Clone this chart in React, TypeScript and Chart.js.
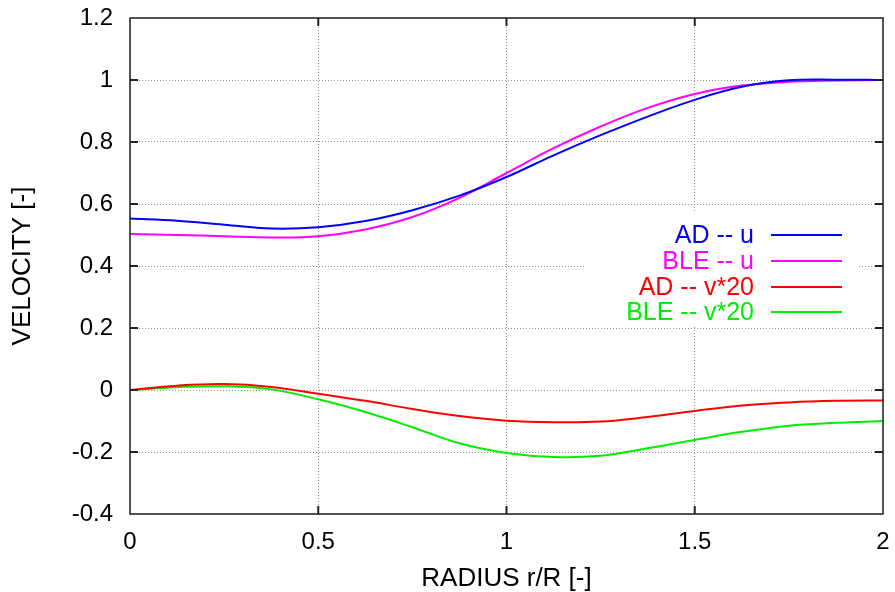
import React, { useEffect, useRef } from "react";
import { Chart, registerables } from "chart.js";

Chart.register(...registerables);

const radius = [0, 0.125, 0.25, 0.375, 0.5, 0.625, 0.75, 0.875, 1, 1.125, 1.25, 1.375, 1.5, 1.625, 1.75, 1.875, 2];
const adU = [0.553, 0.546, 0.533, 0.521, 0.525, 0.545, 0.58, 0.627, 0.687, 0.757, 0.822, 0.882, 0.936, 0.978, 0.999, 1.001, 1.0];
const bleU = [0.503, 0.5, 0.496, 0.492, 0.496, 0.518, 0.558, 0.62, 0.7, 0.78, 0.85, 0.91, 0.955, 0.982, 0.994, 0.998, 1.0];
const adV20 = [0, 0.014, 0.019, 0.01, -0.012, -0.035, -0.061, -0.084, -0.099, -0.104, -0.102, -0.087, -0.068, -0.05, -0.04, -0.035, -0.034];
const bleV20 = [0, 0.009, 0.012, 0.002, -0.03, -0.071, -0.12, -0.172, -0.203, -0.216, -0.212, -0.188, -0.161, -0.135, -0.115, -0.106, -0.1];

const seriesNames = ["AD -- u", "BLE -- u", "AD -- v*20", "BLE -- v*20"];
const seriesColors = ["#0000ff", "#ff00ff", "#ff0000", "#00ee00"];

const xTicks = [0, 0.5, 1, 1.5, 2];
const xTickLabels = ["0", "0.5", "1", "1.5", "2"];
const yTicks = [-0.4, -0.2, 0, 0.2, 0.4, 0.6, 0.8, 1, 1.2];
const yTickLabels = ["-0.4", "-0.2", "0", "0.2", "0.4", "0.6", "0.8", "1", "1.2"];

const xTitle = "RADIUS r/R [-]";
const yTitle = "VELOCITY [-]";

const FONT = "'Liberation Sans', Arial, Helvetica, sans-serif";

const legendBox = { left: 585, top: 213, right: 857, bottom: 326 };

const legendPlugin = {
  id: "gnuLegend",
  beforeDatasetsDraw(chart: any) {
    const ctx = chart.ctx;
    ctx.save();
    ctx.fillStyle = "#ffffff";
    ctx.fillRect(legendBox.left, legendBox.top, legendBox.right - legendBox.left, legendBox.bottom - legendBox.top);
    ctx.restore();
  },
  afterDatasetsDraw(chart: any) {
    const ctx = chart.ctx;
    const { left, right, top, bottom } = chart.chartArea;
    ctx.save();
    ctx.strokeStyle = "#222";
    ctx.lineWidth = 1.5;
    ctx.strokeRect(left, top, right - left, bottom - top);
    ctx.lineWidth = 2;
    const xs = chart.scales.x;
    const ys = chart.scales.y;
    const tl = 8;
    xs.ticks.forEach((t: any) => {
      const px = xs.getPixelForValue(t.value);
      if (px <= left + 1 || px >= right - 1) return;
      ctx.beginPath();
      ctx.moveTo(px, bottom);
      ctx.lineTo(px, bottom - tl);
      ctx.moveTo(px, top);
      ctx.lineTo(px, top + tl);
      ctx.stroke();
    });
    ys.ticks.forEach((t: any) => {
      const py = ys.getPixelForValue(t.value);
      if (py <= top + 1 || py >= bottom - 1) return;
      ctx.beginPath();
      ctx.moveTo(left, py);
      ctx.lineTo(left + tl, py);
      ctx.moveTo(right, py);
      ctx.lineTo(right - tl, py);
      ctx.stroke();
    });
    const rows = [235, 261, 287, 312];
    ctx.font = `25px ${FONT}`;
    ctx.textAlign = "right";
    ctx.textBaseline = "middle";
    seriesNames.forEach((name, i) => {
      ctx.fillStyle = seriesColors[i];
      ctx.fillText(name, 754, rows[i] + 1);
      ctx.strokeStyle = seriesColors[i];
      ctx.lineWidth = 2;
      ctx.beginPath();
      ctx.moveTo(771, rows[i]);
      ctx.lineTo(842, rows[i]);
      ctx.stroke();
    });
    ctx.restore();
  },
};

export default function App() {
  const ref = useRef<HTMLCanvasElement>(null);
  useEffect(() => {
    if (!ref.current) return;
    const series = [adU, bleU, adV20, bleV20];
    const chart = new Chart(ref.current, {
      type: "line",
      data: {
        datasets: series.map((vals, i) => ({
          label: seriesNames[i],
          data: radius.map((r, j) => ({ x: r, y: vals[j] })),
          borderColor: seriesColors[i],
          backgroundColor: seriesColors[i],
          borderWidth: 2,
          pointRadius: 0,
          tension: 0.4,
          fill: false,
        })),
      },
      options: {
        responsive: false,
        animation: false,
        layout: { padding: { top: 18, right: 12, left: 0, bottom: 0 } },
        plugins: { legend: { display: false }, tooltip: { enabled: false } },
        scales: {
          x: {
            type: "linear",
            min: 0,
            max: 2,
            afterBuildTicks: (scale: any) => {
              scale.ticks = xTicks.map((v) => ({ value: v }));
            },
            afterFit: (scale: any) => {
              scale.height = 78;
              scale.paddingLeft = 0;
              scale.paddingRight = 0;
            },
            ticks: {
              padding: 14,
              color: "#000",
              font: { family: FONT, size: 24 },
              maxRotation: 0,
              callback: (v: any) => {
                const i = xTicks.indexOf(Number(v));
                return i >= 0 ? xTickLabels[i] : "";
              },
            },
            grid: { color: "#8f8f8f", lineWidth: 1, drawTicks: false },
            border: { display: false, dash: [1, 2] },
            title: {
              display: true,
              text: xTitle,
              color: "#000",
              font: { family: FONT, size: 26, lineHeight: 1.0 },
              padding: { top: 0, bottom: 0 },
            },
          },
          y: {
            type: "linear",
            min: -0.4,
            max: 1.2,
            afterBuildTicks: (scale: any) => {
              scale.ticks = yTicks.map((v) => ({ value: v }));
            },
            afterFit: (scale: any) => {
              scale.width = 130;
              scale.paddingTop = 0;
              scale.paddingBottom = 0;
            },
            ticks: {
              padding: 17,
              color: "#000",
              font: { family: FONT, size: 24 },
              callback: (v: any) => {
                const i = yTicks.findIndex((t) => Math.abs(t - Number(v)) < 1e-9);
                return i >= 0 ? yTickLabels[i] : "";
              },
            },
            grid: { color: "#8f8f8f", lineWidth: 1, drawTicks: false },
            border: { display: false, dash: [1, 2] },
            title: {
              display: true,
              text: yTitle,
              color: "#000",
              font: { family: FONT, size: 26, lineHeight: 1.0 },
              padding: { top: 10, bottom: 0 },
            },
          },
        },
      },
      plugins: [legendPlugin],
    });
    return () => chart.destroy();
  }, []);
  return (
    <div style={{ position: "fixed", left: 0, top: 0, width: 895, height: 592, background: "#fff" }}>
      <canvas ref={ref} width={895} height={592} style={{ display: "block" }} />
    </div>
  );
}
